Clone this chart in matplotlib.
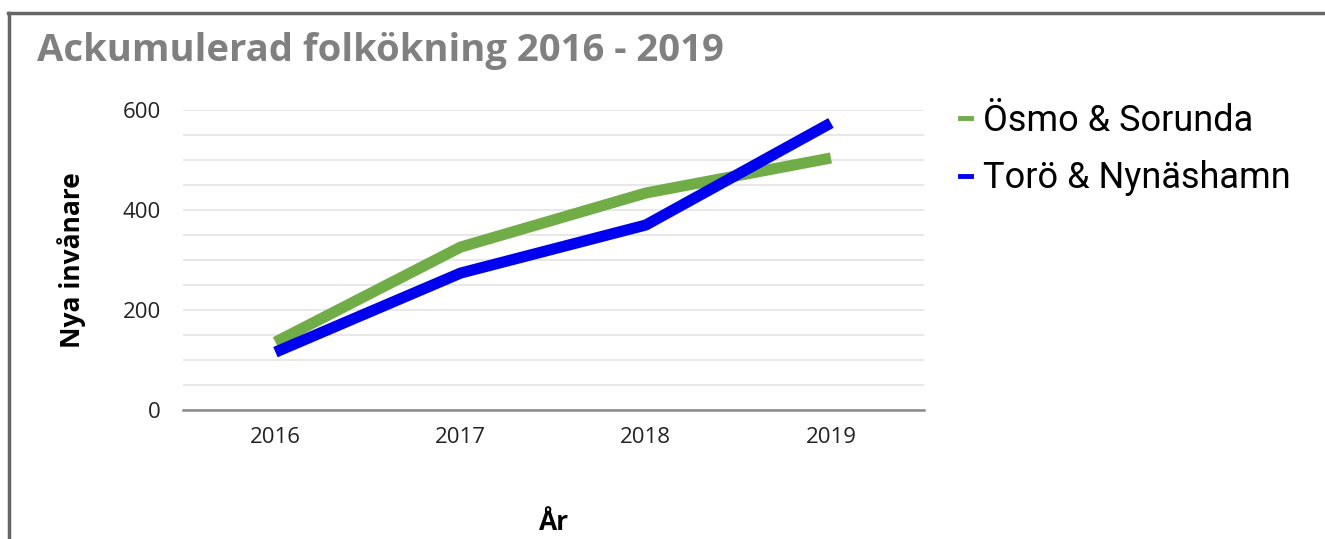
import matplotlib
matplotlib.use("Agg")
import matplotlib.pyplot as plt
from matplotlib.lines import Line2D
import numpy as np

# Data
years = ["2016", "2017", "2018", "2019"]
osmo_sorunda = [136, 326, 434, 504]
toro_nynashamn = [116, 274, 370, 574]

series_names = ["Ösmo & Sorunda", "Torö & Nynäshamn"]
series_colors = ["#70AD47", "#0000F0"]

plt.rcParams['font.family'] = ['Open Sans', 'DejaVu Sans']

fig = plt.figure(figsize=(13.25, 5.39), dpi=100)
ax = fig.add_axes([0.138, 0.239, 0.559, 0.557])

x = np.arange(len(years))
ax.plot(x, osmo_sorunda, color=series_colors[0], lw=8, solid_capstyle="butt", zorder=3)
ax.plot(x, toro_nynashamn, color=series_colors[1], lw=8, solid_capstyle="butt", zorder=4)

ax.set_xlim(-0.5, 3.5)
ax.set_ylim(0, 600)
ax.set_xticks(x)
ax.set_xticklabels(years)
ax.set_yticks([0, 200, 400, 600])
ax.set_yticks(np.arange(0, 601, 50), minor=True)
ax.grid(True, which="both", axis="y", color="#e4e4e4", lw=1.2, zorder=0)
ax.tick_params(axis="both", which="both", length=0, labelsize=16, colors="#222222")
ax.tick_params(axis="y", pad=16)
ax.tick_params(axis="x", pad=12)
for side in ["top", "right", "left"]:
    ax.spines[side].set_visible(False)
ax.spines["bottom"].set_color("#8a8a8a")
ax.spines["bottom"].set_linewidth(1.8)

ax.set_ylabel("Nya invånare", fontsize=19, fontweight="bold", labelpad=26)
ax.set_xlabel("År", fontsize=19, fontweight="bold", labelpad=44)

fig.text(0.028, 0.905, "Ackumulerad folkökning 2016 - 2019", fontsize=27.5,
         fontweight="bold", color="#808080", va="center", ha="left")

# legend
handles = [Line2D([0], [0], color=c, lw=3.5) for c in series_colors]
leg = fig.legend(handles, series_names, loc="upper left", bbox_to_anchor=(0.7, 0.87),
                 frameon=False, handlelength=0.3, handletextpad=0.35,
                 labelspacing=0.6, prop={"family": ["Roboto", "DejaVu Sans"], "size": 26})

# chart frame (top and left borders)
fig.add_artist(Line2D([0.006, 1.0], [0.976, 0.976], color="#666666", lw=2.5))
fig.add_artist(Line2D([0.0065, 0.0065], [0.0, 0.976], color="#666666", lw=2.5))

fig.savefig("out.png", dpi=100)
